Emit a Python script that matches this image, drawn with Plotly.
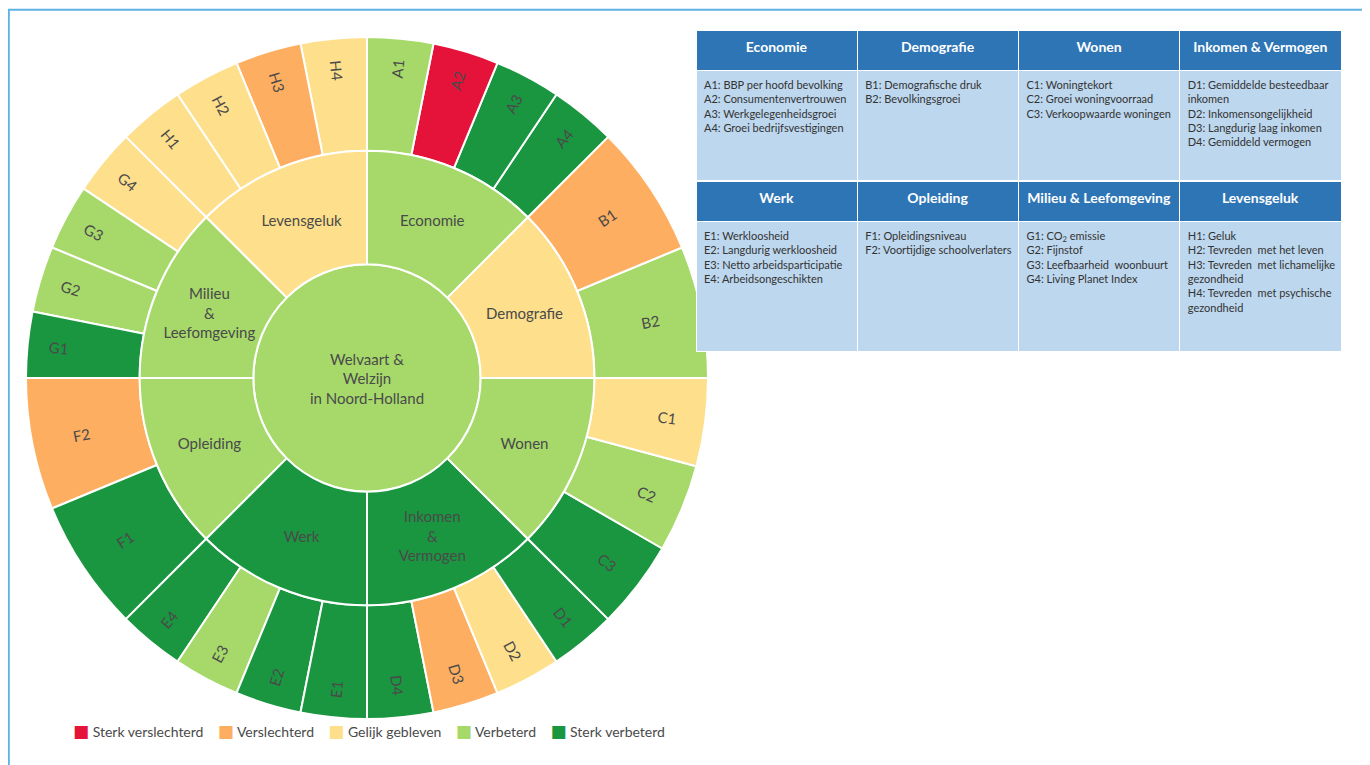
import plotly.graph_objects as go

# ---------------- data ----------------
root_label = "Welvaart &<br>Welzijn<br>in Noord-Holland"
root_status = "Verbeterd"

categories = ["Economie", "Demografie", "Wonen", "Inkomen & Vermogen",
              "Werk", "Opleiding", "Milieu & Leefomgeving", "Levensgeluk"]
category_labels = ["Economie", "Demografie", "Wonen", "Inkomen<br>&<br>Vermogen",
                   "Werk", "Opleiding", "Milieu<br>&<br>Leefomgeving", "Levensgeluk"]
category_status = ["Verbeterd", "Gelijk gebleven", "Verbeterd", "Sterk verbeterd",
                   "Sterk verbeterd", "Verbeterd", "Verbeterd", "Gelijk gebleven"]

# indicators in clockwise order starting at 12 o'clock
indicators = ["A1", "A2", "A3", "A4",
              "B1", "B2",
              "C1", "C2", "C3",
              "D1", "D2", "D3", "D4",
              "E1", "E2", "E3", "E4",
              "F1", "F2",
              "G1", "G2", "G3", "G4",
              "H1", "H2", "H3", "H4"]
indicator_parent = (["Economie"] * 4 + ["Demografie"] * 2 + ["Wonen"] * 3 +
                    ["Inkomen & Vermogen"] * 4 + ["Werk"] * 4 + ["Opleiding"] * 2 +
                    ["Milieu & Leefomgeving"] * 4 + ["Levensgeluk"] * 4)
indicator_weight = [3, 3, 3, 3,
                    6, 6,
                    4, 4, 4,
                    3, 3, 3, 3,
                    3, 3, 3, 3,
                    6, 6,
                    3, 3, 3, 3,
                    3, 3, 3, 3]
indicator_status = ["Verbeterd", "Sterk verslechterd", "Sterk verbeterd", "Sterk verbeterd",
                    "Verslechterd", "Verbeterd",
                    "Gelijk gebleven", "Verbeterd", "Sterk verbeterd",
                    "Sterk verbeterd", "Gelijk gebleven", "Verslechterd", "Sterk verbeterd",
                    "Sterk verbeterd", "Sterk verbeterd", "Verbeterd", "Sterk verbeterd",
                    "Sterk verbeterd", "Verslechterd",
                    "Sterk verbeterd", "Verbeterd", "Verbeterd", "Gelijk gebleven",
                    "Gelijk gebleven", "Gelijk gebleven", "Verslechterd", "Gelijk gebleven"]

status_names = ["Sterk verslechterd", "Verslechterd", "Gelijk gebleven", "Verbeterd", "Sterk verbeterd"]
status_colors = ["#E5133A", "#FDAE61", "#FEDF8C", "#A6D96A", "#1A9641"]
color_of = dict(zip(status_names, status_colors))

table_headers_top = ["Economie", "Demografie", "Wonen", "Inkomen & Vermogen"]
table_text_top = [
    ["A1: BBP per hoofd bevolking", "A2: Consumentenvertrouwen",
     "A3: Werkgelegenheidsgroei", "A4: Groei bedrijfsvestigingen"],
    ["B1: Demografische druk", "B2: Bevolkingsgroei"],
    ["C1: Woningtekort", "C2: Groei woningvoorraad", "C3: Verkoopwaarde woningen"],
    ["D1: Gemiddelde besteedbaar", "inkomen", "D2: Inkomensongelijkheid",
     "D3: Langdurig laag inkomen", "D4: Gemiddeld vermogen"],
]
table_headers_bottom = ["Werk", "Opleiding", "Milieu & Leefomgeving", "Levensgeluk"]
table_text_bottom = [
    ["E1: Werkloosheid", "E2: Langdurig werkloosheid",
     "E3: Netto arbeidsparticipatie", "E4: Arbeidsongeschikten"],
    ["F1: Opleidingsniveau", "F2: Voortijdige schoolverlaters"],
    ["G1: CO<sub>2</sub> emissie", "G2: Fijnstof", "G3: Leefbaarheid  woonbuurt",
     "G4: Living Planet Index"],
    ["H1: Geluk", "H2: Tevreden  met het leven", "H3: Tevreden  met lichamelijke",
     "gezondheid", "H4: Tevreden  met psychische", "gezondheid"],
]

FONT = "Lato"
TEXT_GREY = "#4a4a4a"

# figure is placed 8px into the page by the default body margin
W, H = 1362, 757
OFF = 8


def px_x(X):
    return (X - OFF) / W


def px_y(Y):
    return 1 - (Y - OFF) / H


# ---------------- sunburst ----------------
# plotly lays out sectors counter-clockwise, so feed them reversed
order_cat = list(range(len(categories)))[::-1]
order_ind = list(range(len(indicators)))[::-1]

ids, labels, parents, values, colors, kinds = [], [], [], [], [], []
ids.append("root"); labels.append(root_label); parents.append(""); values.append(0)
colors.append(color_of[root_status]); kinds.append("inner")
for i in order_cat:
    ids.append(categories[i]); labels.append(category_labels[i]); parents.append("root")
    values.append(0); colors.append(color_of[category_status[i]]); kinds.append("inner")
for i in order_ind:
    ids.append(indicators[i]); labels.append(indicators[i]); parents.append(indicator_parent[i])
    values.append(indicator_weight[i]); colors.append(color_of[indicator_status[i]]); kinds.append("leaf")

domain_sb = dict(x=[px_x(26), px_x(708)], y=[px_y(719), px_y(37)])

fig = go.Figure()

# bottom trace: all sectors, radial labels on indicators
fig.add_trace(go.Sunburst(
    ids=ids, labels=labels, parents=parents, values=values,
    branchvalues="remainder", sort=False, rotation=90,
    marker=dict(colors=colors, line=dict(color="white", width=2)),
    leaf=dict(opacity=1),
    texttemplate=["%{label}" if k == "leaf" else "" for k in kinds],
    insidetextorientation="radial",
    textfont=dict(family=FONT, size=15, color=TEXT_GREY),
    hoverinfo="label", domain=domain_sb,
))
# top trace: centre + themes with horizontal labels
fig.add_trace(go.Sunburst(
    ids=ids, labels=labels, parents=parents, values=values,
    branchvalues="remainder", sort=False, rotation=90,
    marker=dict(colors=[c if k == "inner" else "rgba(0,0,0,0)" for c, k in zip(colors, kinds)],
                line=dict(color=["white" if k == "inner" else "rgba(0,0,0,0)" for k in kinds],
                          width=[2 if k == "inner" else 0 for k in kinds])),
    leaf=dict(opacity=1),
    texttemplate=["%{label}" if k == "inner" else "" for k in kinds],
    insidetextorientation="horizontal",
    textfont=dict(family=FONT, size=15, color=TEXT_GREY),
    hoverinfo="label", domain=domain_sb,
))

# ---------------- tables ----------------
header_fill = "#2E75B6"
cell_fill = "#BDD7EE"
tbl_x = [px_x(696), px_x(1342)]
NB = "\u00a0"

fig.add_trace(go.Table(
    domain=dict(x=tbl_x, y=[px_y(181), px_y(30)]),
    columnwidth=[1, 1, 1, 1],
    header=dict(values=[f"<b>{h.replace(' ', NB)}</b>" for h in table_headers_top],
                fill_color=header_fill, line=dict(color="white", width=1),
                font=dict(family=FONT, size=14, color="white"), align="center", height=40),
    cells=dict(values=[["<br>".join(t)] for t in table_text_top],
               fill_color=cell_fill, line=dict(color="white", width=1),
               font=dict(family=FONT, size=11, color="#333333"), align="left", height=110),
))
fig.add_trace(go.Table(
    domain=dict(x=tbl_x, y=[px_y(352), px_y(181)]),
    columnwidth=[1, 1, 1, 1],
    header=dict(values=[f"<b>{h.replace(' ', NB)}</b>" for h in table_headers_bottom],
                fill_color=header_fill, line=dict(color="white", width=1),
                font=dict(family=FONT, size=14, color="white"), align="center", height=40),
    cells=dict(values=[["<br>".join(t)] for t in table_text_bottom],
               fill_color=cell_fill, line=dict(color="white", width=1),
               font=dict(family=FONT, size=11, color="#333333"), align="left", height=130),
))

# ---------------- legend (single text line with coloured squares) ----------------
legend_parts = [
    f'<span style="font-family:DejaVu Sans;font-size:17px;color:{c}">\u25A0</span>{NB}{n}'
    for n, c in zip(status_names, status_colors)
]
legend_text = (NB * 4).join(legend_parts)

fig.update_layout(
    width=W, height=H,
    margin=dict(l=0, r=0, t=0, b=0),
    paper_bgcolor="white", plot_bgcolor="white",
    font=dict(family=FONT, color=TEXT_GREY),
    showlegend=False,
    annotations=[dict(text=legend_text, xref="paper", yref="paper",
                      x=px_x(71), y=px_y(731), xanchor="left", yanchor="middle",
                      showarrow=False, font=dict(family=FONT, size=14, color=TEXT_GREY))],
    shapes=[dict(type="rect", xref="paper", yref="paper",
                 x0=0.8 / W, x1=px_x(1366), y0=-0.1, y1=1 - 1.8 / H,
                 line=dict(color="#5DB4E4", width=2), fillcolor="rgba(0,0,0,0)", layer="above")],
)

fig.write_html("out.html")
